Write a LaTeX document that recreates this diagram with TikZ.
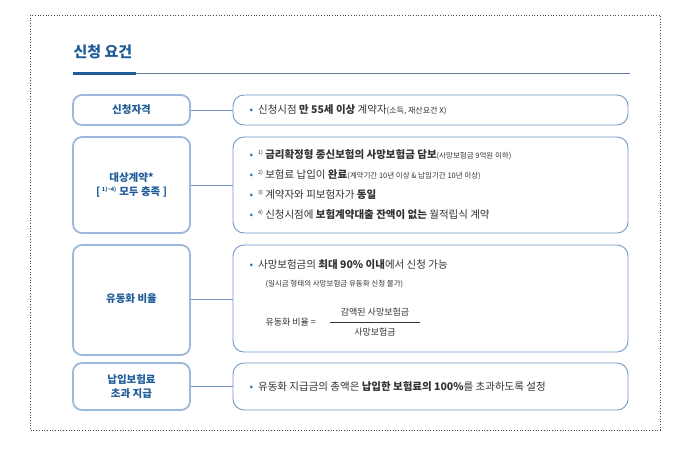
\documentclass[tikz,border=0pt]{standalone}
\usepackage{fontspec}
\setmainfont{Noto Sans CJK KR}
\definecolor{tblue}{HTML}{1F5C99}
\definecolor{lbord}{HTML}{9DB8DC}
\definecolor{rbord}{HTML}{7397C8}
\definecolor{txt}{HTML}{333333}
\definecolor{bul}{HTML}{2B6CB0}
\begin{document}
\begin{tikzpicture}[x=1pt,y=-1pt,
 lbox/.style={draw=lbord,line width=1.8pt,rounded corners=9pt,fill=white},
 rbox/.style={draw=rbord,line width=0.9pt,rounded corners=11pt,fill=white},
 ltxt/.style={font=\fontsize{10.5}{14}\selectfont\bfseries,text=tblue,align=center},
 rtxt/.style={font=\fontsize{10.5}{12}\selectfont,text=txt,anchor=west},
 small/.style={font=\fontsize{7.5}{9}\selectfont,text=txt},
 conn/.style={draw=rbord,line width=0.8pt}]
\useasboundingbox (0,0) rectangle (690,451);
\draw[dotted,line width=0.7pt,black!70] (30,15) rectangle (660,430);
\node[anchor=west,font=\fontsize{15}{17}\selectfont\bfseries,text=tblue] (title) at (70,52) {신청 요건};
\draw[rbord!80!black,line width=0.6pt] (73,73) -- (630,73);
\draw[tblue,line width=3pt] (73,73) -- (136,73);
% left boxes
\draw[lbox] (73,95) rectangle (190,125); \node[ltxt] (L1) at (131.5,110) {신청자격};
\draw[lbox] (73,137) rectangle (190,233); \node[ltxt] (L2) at (131.5,185) {대상계약*\\{[}\,\textsuperscript{\fontsize{5.5}{5}\selectfont 1)\textasciitilde 4)} 모두 충족 {]}};
\draw[lbox] (73,245) rectangle (190,355); \node[ltxt] (L3) at (131.5,299) {유동화 비율};
\draw[lbox] (73,363) rectangle (190,410); \node[ltxt] (L4) at (131.5,386.5) {납입보험료\\초과 지급};
% right boxes
\draw[rbox] (233,95) rectangle (628,125);
\draw[rbox] (233,137) rectangle (628,233);
\draw[rbox] (233,245) rectangle (628,352);
\draw[rbox] (233,363) rectangle (628,410);
\coordinate (R1) at (233,110); \coordinate (R2) at (233,185);
\coordinate (R3) at (233,299); \coordinate (R4) at (233,386.5);
\coordinate (L1e) at (191,110); \coordinate (L2e) at (191,185);
\coordinate (L3e) at (191,299); \coordinate (L4e) at (191,386.5);
\draw[conn] (L1e) -- (R1); \draw[conn] (L2e) -- (R2);
\draw[conn] (L3e) -- (R3); \draw[conn] (L4e) -- (R4);
\newcommand\bu{{\color{bul}\textbullet}\hspace{5pt}}
\newcommand\sn[1]{\textsuperscript{\fontsize{5.5}{5}\selectfont #1}\,}
\node[rtxt] (t1) at (246,110) {\bu 신청시점 {\bfseries 만 55세 이상} 계약자{\fontsize{8}{9}\selectfont(소득, 재산요건 X)}};
\node[rtxt] (t21) at (246,155) {\bu\sn{1)}{\bfseries 금리확정형 종신보험의 사망보험금 담보}{\fontsize{7.5}{9}\selectfont(사망보험금 9억원 이하)}};
\node[rtxt] (t22) at (246,175) {\bu\sn{2)}보험료 납입이 {\bfseries 완료}{\fontsize{7.5}{9}\selectfont(계약기간 10년 이상 \& 납입기간 10년 이상)}};
\node[rtxt] (t23) at (246,195) {\bu\sn{3)}계약자와 피보험자가 {\bfseries 동일}};
\node[rtxt] (t24) at (246,215) {\bu\sn{4)}신청시점에 {\bfseries 보험계약대출 잔액이 없는} 월적립식 계약};
\node[rtxt] (t31) at (246,265) {\bu 사망보험금의 {\bfseries 최대 90\% 이내}에서 신청 가능};
\node[small,anchor=west] (t32) at (262,284) {(일시금 형태의 사망보험금 유동화 신청 불가)};
\node[rtxt,font=\fontsize{9}{10}\selectfont] (t33) at (262,322) {유동화 비율 =};
\draw[txt,line width=0.5pt] (330,322) -- (420,322);
\node[font=\fontsize{9}{10}\selectfont,text=txt] (num) at (375,312) {감액된 사망보험금};
\node[font=\fontsize{9}{10}\selectfont,text=txt] (den) at (375,332) {사망보험금};
\node[rtxt] (t4) at (246,386.5) {\bu 유동화 지급금의 총액은 {\bfseries 납입한 보험료의 100\%}를 초과하도록 설정};
\end{tikzpicture}
\end{document}
